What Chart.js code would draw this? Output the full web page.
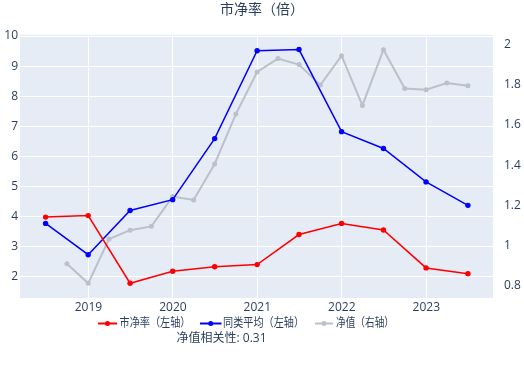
<!DOCTYPE html>
<html lang="zh">
<head>
  <meta charset="UTF-8">
  <title>市净率（倍）</title>
  <script src="https://cdn.jsdelivr.net/npm/chart.js@4.4.0/dist/chart.umd.min.js"></script>
  <style>
    body { margin: 0; padding: 0; background: #fff; }
    canvas { display: block; }
  </style>
</head>
<body>
  <canvas id="pbChart" width="524" height="372"></canvas>

  <script>
    // semi-annual report dates (市净率 / 同类平均)
    const halfDates = ['2018-06-30', '2018-12-31', '2019-06-30', '2019-12-31', '2020-06-30', '2020-12-31',
                       '2021-06-30', '2021-12-31', '2022-06-30', '2022-12-31', '2023-06-30'];
    const pbRatio = [3.98, 4.03, 1.78, 2.18, 2.33, 2.40, 3.40, 3.77, 3.55, 2.29, 2.10];
    const peerAvg = [3.77, 2.73, 4.20, 4.56, 6.59, 9.51, 9.55, 6.82, 6.26, 5.15, 4.37];

    // quarterly net value dates
    const navDates = ['2018-09-30', '2018-12-31', '2019-03-31', '2019-06-30', '2019-09-30', '2019-12-31',
                      '2020-03-31', '2020-06-30', '2020-09-30', '2020-12-31', '2021-03-31', '2021-06-30',
                      '2021-09-30', '2021-12-31', '2022-03-31', '2022-06-30', '2022-09-30', '2022-12-31',
                      '2023-03-31', '2023-06-30'];
    const navValues = [0.91, 0.813, 1.033, 1.077, 1.096, 1.244, 1.227, 1.406, 1.654, 1.863,
                       1.93, 1.90, 1.798, 1.944, 1.697, 1.974, 1.781, 1.775, 1.808, 1.795];

    const yearTicks = [2019, 2020, 2021, 2022, 2023];
    const correlationText = '净值相关性: 0.31';

    const FONT = '"Open Sans", "Noto Sans CJK SC", sans-serif';
    const TEXT = '#2a3f5f';

    // date string -> decimal year for the linear x axis
    function toYear(s) {
      const d = new Date(s + 'T00:00:00Z');
      const start = Date.UTC(d.getUTCFullYear(), 0, 1);
      const end = Date.UTC(d.getUTCFullYear() + 1, 0, 1);
      return d.getUTCFullYear() + (d - start) / (end - start);
    }
    function toPoints(dates, values) {
      return dates.map((d, i) => ({ x: toYear(d), y: values[i] }));
    }

    const plotBg = {
      id: 'plotBg',
      beforeDraw(chart) {
        const { ctx, chartArea: a } = chart;
        ctx.save();
        ctx.fillStyle = '#e5ecf6';
        ctx.fillRect(a.left, a.top, a.right - a.left, a.bottom - a.top);
        ctx.restore();
      }
    };

    const legendItems = [
      { label: '市净率（左轴）', color: '#ff0000', x1: 98, x2: 117, tx: 119.5, w: 71 },
      { label: '同类平均（左轴）', color: '#0000ff', x1: 200, x2: 221.5, tx: 223, w: 81 },
      { label: '净值（右轴）', color: '#bbc0c9', x1: 315, x2: 333, tx: 336, w: 58 }
    ];

    const legendAndNote = {
      id: 'legendAndNote',
      afterDraw(chart) {
        const ctx = chart.ctx;
        const ly = 323.5;
        ctx.save();
        ctx.font = '12px ' + FONT;
        ctx.textBaseline = 'middle';
        legendItems.forEach(it => {
          ctx.strokeStyle = it.color;
          ctx.lineWidth = 2;
          ctx.beginPath();
          ctx.moveTo(it.x1, ly);
          ctx.lineTo(it.x2, ly);
          ctx.stroke();
          ctx.fillStyle = it.color;
          ctx.beginPath();
          ctx.arc((it.x1 + it.x2) / 2, ly, 2.5, 0, Math.PI * 2);
          ctx.fill();
          ctx.fillStyle = TEXT;
          ctx.fillText(it.label, it.tx, ly, it.w);
        });
        ctx.fillStyle = TEXT;
        ctx.textAlign = 'center';
        ctx.fillText(correlationText, 221.5, 338.5);
        ctx.restore();
      }
    };

    new Chart(document.getElementById('pbChart'), {
      type: 'line',
      data: {
        datasets: [{
          label: '市净率（左轴）',
          data: toPoints(halfDates, pbRatio),
          borderColor: '#ff0000',
          backgroundColor: '#ff0000',
          borderWidth: 1.5,
          pointRadius: 2.7,
          pointBorderWidth: 0,
          yAxisID: 'y'
        }, {
          label: '同类平均（左轴）',
          data: toPoints(halfDates, peerAvg),
          borderColor: '#0000ff',
          backgroundColor: '#0000ff',
          borderWidth: 1.5,
          pointRadius: 2.7,
          pointBorderWidth: 0,
          yAxisID: 'y'
        }, {
          label: '净值（右轴）',
          data: toPoints(navDates, navValues),
          borderColor: '#bbc0c9',
          backgroundColor: '#bbc0c9',
          borderWidth: 2,
          pointRadius: 2.5,
          pointBorderWidth: 0,
          yAxisID: 'y2'
        }]
      },
      options: {
        responsive: false,
        animation: false,
        devicePixelRatio: 1,
        layout: { padding: { left: 0, right: 0, top: 0, bottom: 58 } },
        scales: {
          x: {
            type: 'linear',
            min: 2018.19,
            max: 2023.79,
            afterBuildTicks: s => { s.ticks = yearTicks.map(v => ({ value: v })); },
            ticks: { callback: v => String(v), color: TEXT, font: { family: FONT, size: 12 }, padding: 2, maxRotation: 0 },
            grid: { color: '#ffffff', lineWidth: 1, drawTicks: false },
            border: { display: false },
            afterFit: s => { s.height = 16; }
          },
          y: {
            position: 'left',
            min: 1.29,
            max: 10.04,
            ticks: { stepSize: 1, includeBounds: false, color: TEXT, font: { family: FONT, size: 12 }, padding: 2 },
            grid: { color: '#ffffff', lineWidth: 1, drawTicks: false },
            border: { display: false },
            afterFit: s => { s.width = 20; }
          },
          y2: {
            position: 'right',
            min: 0.74,
            max: 2.048,
            ticks: {
              stepSize: 0.2, includeBounds: false, color: TEXT, font: { family: FONT, size: 12 }, padding: 3,
              callback: v => String(Math.round(v * 10) / 10)
            },
            grid: { display: false },
            border: { display: false },
            afterFit: s => { s.width = 31; }
          }
        },
        plugins: {
          title: {
            display: true,
            text: '市净率（倍）',
            color: TEXT,
            font: { family: FONT, size: 14, weight: 'normal' },
            padding: { top: 2, bottom: 16 }
          },
          legend: { display: false },
          tooltip: { enabled: false }
        }
      },
      plugins: [plotBg, legendAndNote]
    });
  </script>
</body>
</html>
